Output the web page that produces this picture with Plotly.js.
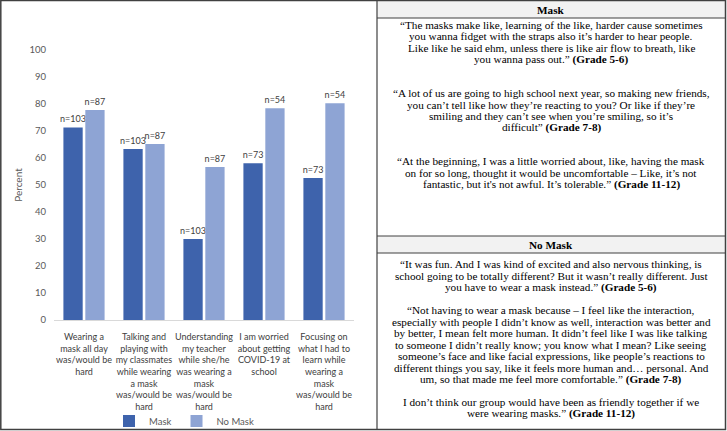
<!DOCTYPE html>
<html><head><meta charset="utf-8">
<script src="https://cdn.plot.ly/plotly-3.0.1.min.js"></script>
<style>html,body{margin:0;padding:0;background:#fff}#chart{width:727px;height:431px}</style>
</head><body><div id="chart"></div>
<script>
const categories = [
  "Wearing a<br>mask all day<br>was/would be<br>hard",
  "Talking and<br>playing with<br>my classmates<br>while wearing<br>a mask<br>was/would be<br>hard",
  "Understanding<br>my teacher<br>while she/he<br>was wearing a<br>mask<br>was/would be<br>hard",
  "I am worried<br>about getting<br>COVID-19 at<br>school",
  "Focusing on<br>what I had to<br>learn while<br>wearing a<br>mask<br>was/would be<br>hard"
];
const maskPercent = [71.3, 63.3, 30.0, 58.1, 52.6];
const noMaskPercent = [77.8, 65.2, 56.7, 78.4, 80.3];
const maskN = [103, 103, 103, 73, 73];
const noMaskN = [87, 87, 87, 54, 54];
const yTickValues = [0, 10, 20, 30, 40, 50, 60, 70, 80, 90, 100];
const seriesNames = ["Mask", "No Mask"];
const tableHeaders = ["Mask", "No Mask"];
const maskQuotes = [
  ["\u201CThe masks make like, learning of the like, harder cause sometimes",
   "you wanna fidget with the straps also it\u2019s harder to hear people.",
   "Like like he said ehm, unless there is like air flow to breath, like",
   "you wanna pass out.\u201D <b>(Grade 5-6)</b>"],
  ["\u201CA lot of us are going to high school next year, so making new friends,",
   "you can\u2019t tell like how they\u2019re reacting to you? Or like if they\u2019re",
   "smiling and they can\u2019t see when you\u2019re smiling, so it\u2019s",
   "difficult\u201D <b>(Grade 7-8)</b>"],
  ["\u201CAt the beginning, I was a little worried about, like, having the mask",
   "on for so long, thought it would be uncomfortable \u2013 Like, it\u2019s not",
   "fantastic, but it's not awful. It\u2019s tolerable.\u201D <b>(Grade 11-12)</b>"]
];
const noMaskQuotes = [
  ["\u201CIt was fun. And I was kind of excited and also nervous thinking, is",
   "school going to be totally different? But it wasn\u2019t really different. Just",
   "you have to wear a mask instead.\u201D <b>(Grade 5-6)</b>"],
  ["\u201CNot having to wear a mask because \u2013 I feel like the interaction,",
   "especially with people I didn\u2019t know as well, interaction was better and",
   "by better, I mean felt more human. It didn\u2019t feel like I was like talking",
   "to someone I didn\u2019t really know; you know what I mean? Like seeing",
   "someone\u2019s face and like facial expressions, like people\u2019s reactions to",
   "different things you say, like it feels more human and\u2026 personal. And",
   "um, so that made me feel more comfortable.\u201D <b>(Grade 7-8)</b>"],
  ["I don\u2019t think our group would have been as friendly together if we",
   "were wearing masks.\u201D <b>(Grade 11-12)</b>"]
];

// geometry (pixels)
const W = 727, H = 431;
const L = 54, T = 50, PW = 300, PH = 270;
const px = x => (x - L) / PW;
const py = y => (T + PH - y) / PH;

const chartFont = "Lato, 'Open Sans', sans-serif";
const serif = "'Liberation Serif', 'Times New Roman', serif";

const traces = [
  {type: "bar", name: seriesNames[0], x: categories, y: maskPercent,
   text: maskN.map(n => "n=" + n), textposition: "outside", cliponaxis: false,
   constraintext: "none",
   textfont: {family: chartFont, size: 9, color: "#404040"},
   marker: {color: "#3e63ac"}, hoverinfo: "none"},
  {type: "bar", name: seriesNames[1], x: categories, y: noMaskPercent,
   text: noMaskN.map(n => "n=" + n), textposition: "outside", cliponaxis: false,
   constraintext: "none",
   textfont: {family: chartFont, size: 9, color: "#404040"},
   marker: {color: "#8ea4d4"}, hoverinfo: "none"}
];

const shapes = [];
const annotations = [];
const xl = 377, xr = 725.5, ytop = 0.5, ybot = 429.5;
const headerBands = [[1, 18], [236, 253]];
headerBands.forEach(b => shapes.push({type: "rect", xref: "paper", yref: "paper",
  x0: px(xl), x1: px(xr), y0: py(b[0]), y1: py(b[1]), fillcolor: "#f2f2f2",
  line: {width: 0}, layer: "below"}));
[18, 236, 253].forEach(r => shapes.push({type: "line", xref: "paper", yref: "paper",
  x0: px(xl), x1: px(xr), y0: py(r), y1: py(r), line: {color: "#404040", width: 1}}));
shapes.push({type: "line", xref: "paper", yref: "paper", x0: px(xl), x1: px(xl),
  y0: py(ytop), y1: py(ybot), line: {color: "#404040", width: 1.2}});
shapes.push({type: "rect", xref: "paper", yref: "paper", x0: px(0.8), x1: px(xr),
  y0: py(ytop), y1: py(ybot), line: {color: "#404040", width: 1.5}});

const cx = (xl + xr) / 2;
headerBands.forEach((b, i) => annotations.push({xref: "paper", yref: "paper",
  x: px(cx), y: py((b[0] + b[1]) / 2), xanchor: "center", yanchor: "middle",
  text: "<b>" + tableHeaders[i] + "</b>", showarrow: false,
  font: {family: serif, size: 11.2, color: "#000"}}));

const LS = 11.5;
function placeQuotes(quotes, startY, gap) {
  let y = startY;
  quotes.forEach(q => {
    q.forEach(line => {
      annotations.push({xref: "paper", yref: "paper", x: px(cx), y: py(y),
        xanchor: "center", yanchor: "middle", text: line, showarrow: false,
        font: {family: serif, size: 11.2, color: "#000"}});
      y += LS;
    });
    y += gap;
  });
}
placeQuotes(maskQuotes, 25, 22);
placeQuotes(noMaskQuotes, 264, 11.5);

const layout = {
  width: W, height: H,
  margin: {l: L, r: W - L - PW, t: T, b: H - T - PH, autoexpand: false},
  paper_bgcolor: "#fff", plot_bgcolor: "#fff",
  barmode: "group", bargap: 0.27, bargroupgap: 0.12,
  font: {family: chartFont, size: 9, color: "#595959"},
  xaxis: {type: "category", showline: true, linecolor: "#d9d9d9", linewidth: 1,
    ticks: "", showgrid: false, zeroline: false, fixedrange: true, tickangle: 0,
    automargin: false,
    tickfont: {family: chartFont, size: 9, color: "#404040"}, ticklabelstandoff: 8},
  yaxis: {range: [0, 100], tickvals: yTickValues, showgrid: false, zeroline: false,
    showline: false, ticks: "", fixedrange: true, ticklabelstandoff: 7, automargin: false,
    tickfont: {family: chartFont, size: 9.5, color: "#595959"},
    title: {text: "Percent", standoff: 4, font: {family: chartFont, size: 10, color: "#595959"}}},
  showlegend: true,
  legend: {orientation: "h", x: px(184), xanchor: "center", y: py(421), yanchor: "middle",
    font: {family: chartFont, size: 9.5, color: "#595959"}, itemwidth: 30,
    traceorder: "normal", bgcolor: "rgba(0,0,0,0)"},
  shapes: shapes,
  annotations: annotations
};

Plotly.newPlot("chart", traces, layout, {displayModeBar: false, staticPlot: true});
</script>
</body></html>
